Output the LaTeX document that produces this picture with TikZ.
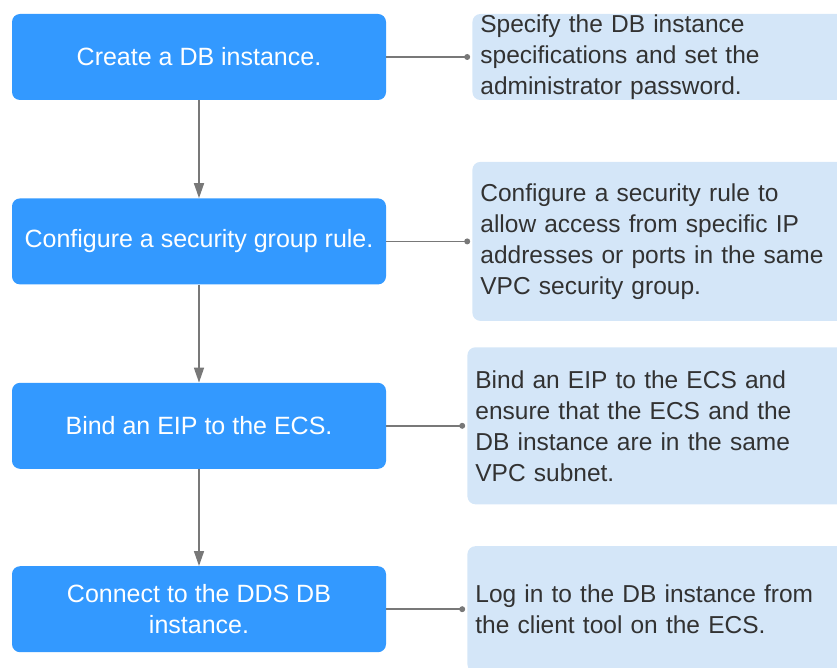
\documentclass[tikz,border=0pt]{standalone}
\usepackage{fontspec}
\setmainfont{Liberation Sans}
\usetikzlibrary{positioning, arrows.meta}
\definecolor{stageBlue}{RGB}{51,153,255}
\definecolor{noteBlue}{RGB}{212,230,248}
\definecolor{lineGray}{RGB}{120,120,120}
\definecolor{textGray}{RGB}{50,50,50}
\tikzset{
	stage/.style={fill=stageBlue, text=white, rounded corners=8pt, inner sep=0pt,
		minimum width=374pt, minimum height=86pt, align=center,
		font=\fontsize{25}{31}\selectfont},
	remark/.style={fill=noteBlue, text=textGray, rounded corners=8pt, anchor=west,
		text width=362pt, inner xsep=8pt, inner ysep=0pt, align=left,
		font=\fontsize{24.5}{31}\selectfont},
	flow/.style={lineGray, line width=1.6pt, -{Triangle[length=15pt, width=10pt]}},
	tie/.style={lineGray, line width=1.6pt},
}
\newcommand{\stepBox}[3][]{
	\node[stage, #1] (#2) {#3};
}
\newcommand{\stepNote}[5][]{
	\node[remark, right=#2 of #3, #1] (#4) {#5};
}
\newcommand{\stepFlow}[2]{
	\draw[flow] (#1.south) -- (#2.north);
}
\newcommand{\stepTie}[2]{
	\draw[tie] (#1.east) -- ([xshift=-5pt]#2.west);
	\fill[lineGray] ([xshift=-5pt]#2.west) circle (3pt);
}
\begin{document}
\begin{tikzpicture}[x=1pt, y=-1pt, node distance=98pt]
	\useasboundingbox (0,0) rectangle (837,668);

	\stepBox[at={(199,57)}]{create}{Create a DB instance.};
	\stepBox[below=of create]{secgroup}{Configure a security group rule.};
	\stepBox[below=of secgroup]{bindeip}{Bind an EIP to the ECS.};
	\stepBox[below=97pt of bindeip]{connect}{Connect to the DDS DB\\instance.};

	\stepNote[minimum height=86pt]{86pt}{create}{createNote}
		{Specify the DB instance\\specifications and set the\\administrator password.};
	\stepNote[minimum height=159pt]{86pt}{secgroup}{secgroupNote}
		{Configure a security rule to\\allow access from specific IP\\addresses or ports in the same\\VPC security group.};
	\stepNote[minimum height=157pt]{81pt}{bindeip}{bindeipNote}
		{Bind an EIP to the ECS and\\ensure that the ECS and the\\DB instance are in the same\\VPC subnet.};
	\stepNote[minimum height=126pt]{81pt}{connect}{connectNote}
		{Log in to the DB instance from\\the client tool on the ECS.};

	\stepFlow{create}{secgroup};
	\stepFlow{secgroup}{bindeip};
	\stepFlow{bindeip}{connect};

	\stepTie{create}{createNote};
	\stepTie{secgroup}{secgroupNote};
	\stepTie{bindeip}{bindeipNote};
	\stepTie{connect}{connectNote};
\end{tikzpicture}
\end{document}
